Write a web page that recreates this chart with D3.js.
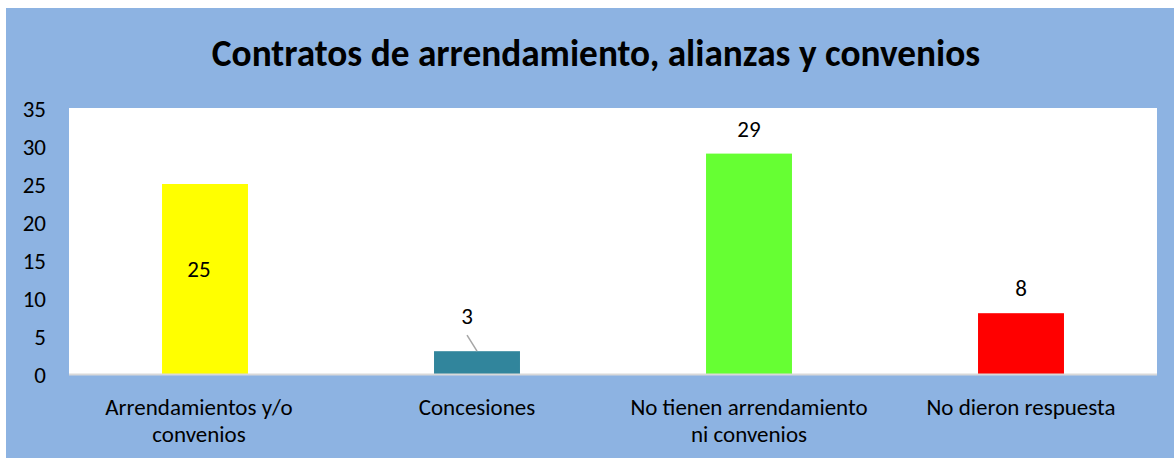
<!DOCTYPE html>
<html>
<head>
<meta charset="utf-8">
<script src="https://cdn.jsdelivr.net/npm/d3@7"></script>
<style>
  html, body { margin: 0; padding: 0; background: #ffffff; }
  svg { display: block; }
  text { font-family: Carlito, Calibri, Lato, "Open Sans", sans-serif; fill: #000; }
</style>
</head>
<body>
<svg id="chart" width="1174" height="458"></svg>
<script>
// Chart data
const title = "Contratos de arrendamiento, alianzas y convenios";
const categories = [
  ["Arrendamientos y/o", "convenios"],
  ["Concesiones"],
  ["No tienen arrendamiento", "ni convenios"],
  ["No dieron respuesta"]
];
const values = [25, 3, 29, 8];
const barColors = ["#FFFF00", "#31859C", "#66FF33", "#FF0000"];
const yTicks = [0, 5, 10, 15, 20, 25, 30, 35];

const svg = d3.select("#chart");
const W = 1174, H = 458;
const fontFam = "Carlito, Calibri, Lato, sans-serif";

// Outer chart area
svg.append("rect")
  .attr("x", 6).attr("y", 8)
  .attr("width", W - 6).attr("height", H - 8)
  .attr("fill", "#8DB3E2");

const plot = { left: 69, right: 1157, top: 108, bottom: 374 };

svg.append("rect")
  .attr("x", plot.left).attr("y", plot.top)
  .attr("width", plot.right - plot.left)
  .attr("height", plot.bottom - plot.top)
  .attr("fill", "#ffffff");

// Title
svg.append("text")
  .attr("x", 596).attr("y", 66)
  .attr("text-anchor", "middle")
  .attr("font-size", 37.3)
  .attr("font-weight", "bold")
  .text(title);

const x = d3.scaleBand()
  .domain(d3.range(values.length))
  .range([plot.left, plot.right])
  .paddingInner(0.684)
  .paddingOuter(0.342);

const y = d3.scaleLinear()
  .domain([0, 35])
  .range([plot.bottom, plot.top]);

// Y axis labels
const yAxis = d3.axisLeft(y).tickValues(yTicks).tickSize(0).tickPadding(0);
const yg = svg.append("g")
  .attr("transform", `translate(${46},0)`)
  .call(yAxis);
yg.select(".domain").remove();
yg.selectAll("text")
  .attr("font-size", 23)
  .attr("font-family", fontFam)
  .attr("fill", "#000")
  .attr("dy", "0.36em");

// Bars
svg.append("g").selectAll("rect")
  .data(values)
  .join("rect")
  .attr("x", (d, i) => x(i))
  .attr("y", d => y(d))
  .attr("width", x.bandwidth())
  .attr("height", d => y(0) - y(d))
  .attr("fill", (d, i) => barColors[i]);

// Baseline
svg.append("line")
  .attr("x1", plot.left).attr("x2", plot.right)
  .attr("y1", plot.bottom + 0.5).attr("y2", plot.bottom + 0.5)
  .attr("stroke", "#D9D9D9").attr("stroke-width", 2);

// Value labels
const labels = svg.append("g");
values.forEach((v, i) => {
  const cx = x(i) + x.bandwidth() / 2;
  let ly, lx = cx;
  if (i === 0) {
    ly = (y(v) + y(0)) / 2 - 10;
    lx = cx - 6;
  } else if (v < 5) {
    ly = y(v) - 35;
    lx = cx - 10;
    labels.append("line")
      .attr("x1", cx - 10).attr("y1", ly + 19)
      .attr("x2", cx).attr("y2", y(v))
      .attr("stroke", "#A6A6A6").attr("stroke-width", 1.5);
  } else {
    ly = y(v) - 25;
  }
  labels.append("text")
    .attr("x", lx).attr("y", ly)
    .attr("dy", "0.36em")
    .attr("text-anchor", "middle")
    .attr("font-size", 23)
    .text(v);
});

// Category labels
const xg = svg.append("g");
categories.forEach((lines, i) => {
  const cx = x(i) + x.bandwidth() / 2 - (i === 0 ? 6 : 0);
  const t = xg.append("text")
    .attr("text-anchor", "middle")
    .attr("font-size", 23);
  lines.forEach((ln, k) => {
    t.append("tspan")
      .attr("x", cx)
      .attr("y", 407 + k * 27)
      .attr("dy", "0.36em")
      .text(ln);
  });
});
</script>
</body>
</html>
